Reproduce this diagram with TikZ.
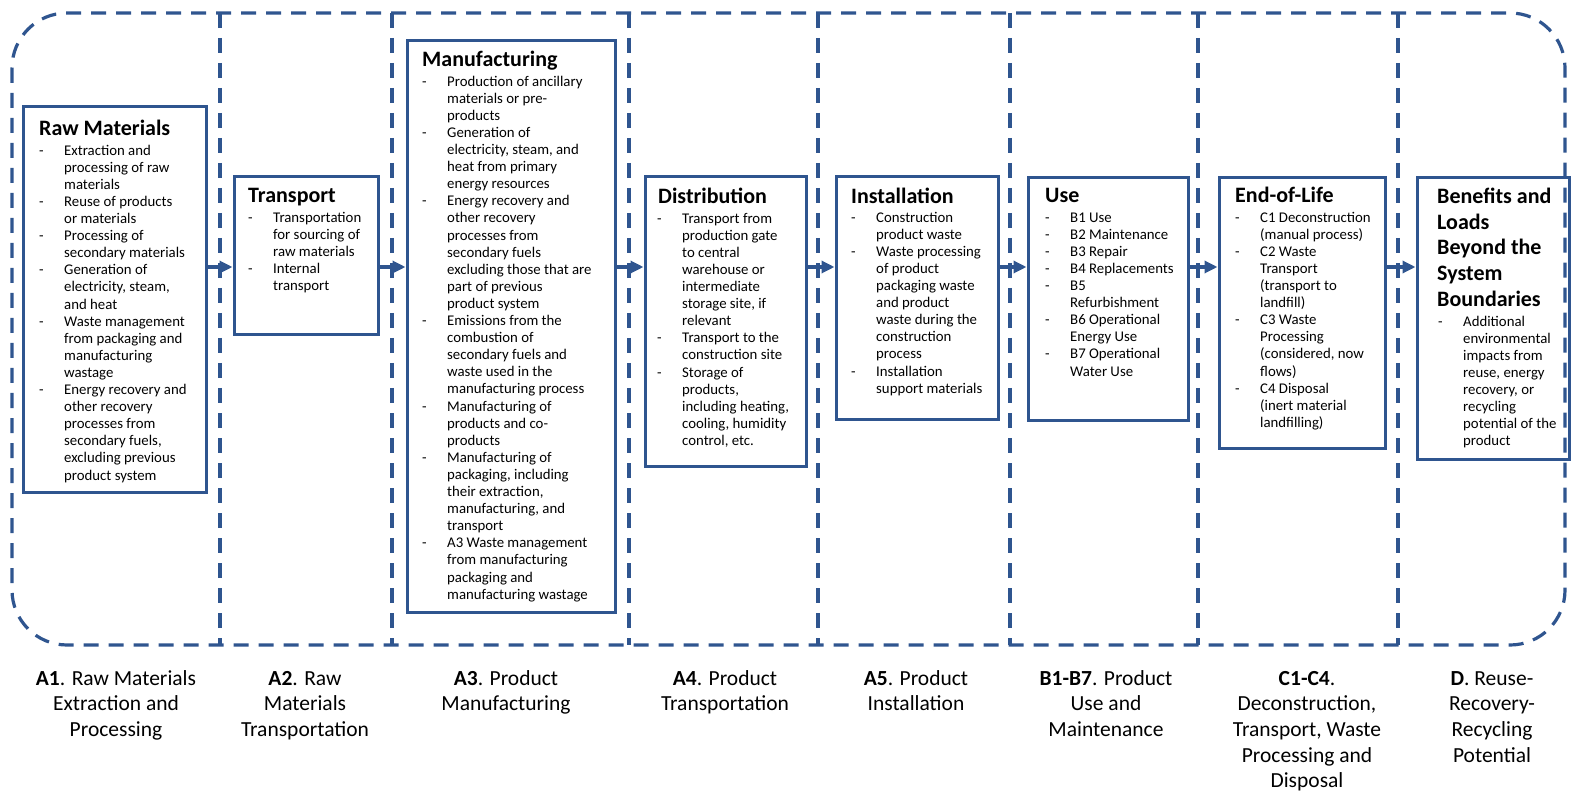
\documentclass[tikz,border=0pt]{standalone}
\usepackage{fontspec}
\setmainfont{Carlito}
\usetikzlibrary{arrows.meta,fit}
\definecolor{lcblue}{RGB}{47,85,143}
\newcommand\bodyfont{\fontsize{14.8}{17.1}\selectfont}
\newcommand\headfont{\fontsize{22}{25.8}\selectfont\bfseries}
\newcommand\labfont{\fontsize{21.5}{25.7}\selectfont}
\newenvironment{blist}{\begin{tabular}{@{}p{25pt}@{}l@{}}}{\end{tabular}}
\tikzset{
  dashline/.style={draw=lcblue, line width=3.2pt, dash pattern=on 15pt off 10pt},
  box/.style={draw=lcblue, line width=3pt, inner sep=0pt, rectangle},
  head/.style={anchor=base west, inner sep=0pt, font=\headfont},
  headml/.style={anchor=north west, inner sep=0pt, font=\headfont},
  body/.style={anchor=north west, inner sep=0pt, font=\bodyfont},
  lab/.style={anchor=north, inner sep=0pt, font=\labfont},
  arr/.style={draw=lcblue, line width=3.2pt, -{Triangle[length=13pt,width=12pt]}}
}
\begin{document}
\begin{tikzpicture}[x=1pt,y=-1pt]
\useasboundingbox (0,0) rectangle (1574,791);
% outer boundary and dividers
\draw[dashline, rounded corners=55pt] (12,13) rectangle (1565,645);
\foreach \x in {220,392,629,818,1010,1198,1398}
  \draw[dashline] (\x,13) -- (\x,645);
% boxes
\node[box, fit={(23,107) (206,492)}] (rm) {};
\node[box, fit={(234,177) (378,335)}] (tr) {};
\node[box, fit={(407,41) (615,612)}] (mf) {};
\node[box, fit={(645,177) (806,466)}] (di) {};
\node[box, fit={(836,177) (998,419)}] (in) {};
\node[box, fit={(1028,178) (1188,420)}] (us) {};
\node[box, fit={(1219,178) (1385,448)}] (eo) {};
\node[box, fit={(1417,178) (1569,459)}] (be) {};
% titles
\node[head] (rmT) at (39,136) {Raw Materials};
\node[head] (trT) at (248,203) {Transport};
\node[head] (mfT) at (422,67) {Manufacturing};
\node[head] (diT) at (658,204) {Distribution};
\node[head] (inT) at (851,204) {Installation};
\node[head] (usT) at (1045,203) {Use};
\node[head] (eoT) at (1235,203) {End-of-Life};
\node[headml] (beT) at (1437,185) {\begin{tabular}{@{}l@{}}Benefits and\\Loads\\Beyond the\\System\\Boundaries\end{tabular}};
% bodies
\node[body] (rmB) at (39,143) {\begin{blist}
- & Extraction and\\ & processing of raw\\ & materials\\
- & Reuse of products\\ & or materials\\
- & Processing of\\ & secondary materials\\
- & Generation of\\ & electricity, steam,\\ & and heat\\
- & Waste management\\ & from packaging and\\ & manufacturing\\ & wastage\\
- & Energy recovery and\\ & other recovery\\ & processes from\\ & secondary fuels,\\ & excluding previous\\ & product system
\end{blist}};
\node[body] (trB) at (248,210) {\begin{blist}
- & Transportation\\ & for sourcing of\\ & raw materials\\
- & Internal\\ & transport
\end{blist}};
\node[body] (mfB) at (422,74) {\begin{blist}
- & Production of ancillary\\ & materials or pre-\\ & products\\
- & Generation of\\ & electricity, steam, and\\ & heat from primary\\ & energy resources\\
- & Energy recovery and\\ & other recovery\\ & processes from\\ & secondary fuels\\ & excluding those that are\\ & part of previous\\ & product system\\
- & Emissions from the\\ & combustion of\\ & secondary fuels and\\ & waste used in the\\ & manufacturing process\\
- & Manufacturing of\\ & products and co-\\ & products\\
- & Manufacturing of\\ & packaging, including\\ & their extraction,\\ & manufacturing, and\\ & transport\\
- & A3 Waste management\\ & from manufacturing\\ & packaging and\\ & manufacturing wastage
\end{blist}};
\node[body] (diB) at (657,211) {\begin{blist}
- & Transport from\\ & production gate\\ & to central\\ & warehouse or\\ & intermediate\\ & storage site, if\\ & relevant\\
- & Transport to the\\ & construction site\\
- & Storage of\\ & products,\\ & including heating,\\ & cooling, humidity\\ & control, etc.
\end{blist}};
\node[body] (inB) at (851,210) {\begin{blist}
- & Construction\\ & product waste\\
- & Waste processing\\ & of product\\ & packaging waste\\ & and product\\ & waste during the\\ & construction\\ & process\\
- & Installation\\ & support materials
\end{blist}};
\node[body] (usB) at (1045,210) {\begin{blist}
- & B1 Use\\
- & B2 Maintenance\\
- & B3 Repair\\
- & B4 Replacements\\
- & B5\\ & Refurbishment\\
- & B6 Operational\\ & Energy Use\\
- & B7 Operational\\ & Water Use
\end{blist}};
\node[body] (eoB) at (1235,210) {\begin{blist}
- & C1 Deconstruction\\ & (manual process)\\
- & C2 Waste\\ & Transport\\ & (transport to\\ & landfill)\\
- & C3 Waste\\ & Processing\\ & (considered, now\\ & flows)\\
- & C4 Disposal\\ & (inert material\\ & landfilling)
\end{blist}};
\node[body] (beB) at (1438,314) {\begin{blist}
- & Additional\\ & environmental\\ & impacts from\\ & reuse, energy\\ & recovery, or\\ & recycling\\ & potential of the\\ & product
\end{blist}};
% arrows
\coordinate (ay) at (0,267);
\draw[arr] (rm.east |- ay) -- (tr.west |- ay);
\draw[arr] (tr.east |- ay) -- (mf.west |- ay);
\draw[arr] (mf.east |- ay) -- (di.west |- ay);
\draw[arr] (di.east |- ay) -- (in.west |- ay);
\draw[arr] (in.east |- ay) -- (us.west |- ay);
\draw[arr] (us.east |- ay) -- (eo.west |- ay);
\draw[arr] (eo.east |- ay) -- (be.west |- ay);
% stage labels
\node[lab] (l1) at (116,667) {\begin{tabular}{@{}c@{}}\textbf{A1}. Raw Materials\\Extraction and\\Processing\end{tabular}};
\node[lab] (l2) at (305,667) {\begin{tabular}{@{}c@{}}\textbf{A2}. Raw\\Materials\\Transportation\end{tabular}};
\node[lab] (l3) at (506,667) {\begin{tabular}{@{}c@{}}\textbf{A3}. Product\\Manufacturing\end{tabular}};
\node[lab] (l4) at (725,667) {\begin{tabular}{@{}c@{}}\textbf{A4}. Product\\Transportation\end{tabular}};
\node[lab] (l5) at (916,667) {\begin{tabular}{@{}c@{}}\textbf{A5}. Product\\Installation\end{tabular}};
\node[lab] (l6) at (1106,667) {\begin{tabular}{@{}c@{}}\textbf{B1-B7}. Product\\Use and\\Maintenance\end{tabular}};
\node[lab] (l7) at (1307,667) {\begin{tabular}{@{}c@{}}\textbf{C1-C4}.\\Deconstruction,\\Transport, Waste\\Processing and\\Disposal\end{tabular}};
\node[lab] (l8) at (1492,667) {\begin{tabular}{@{}c@{}}\textbf{D}. Reuse-\\Recovery-\\Recycling\\Potential\end{tabular}};
\end{tikzpicture}
\end{document}
